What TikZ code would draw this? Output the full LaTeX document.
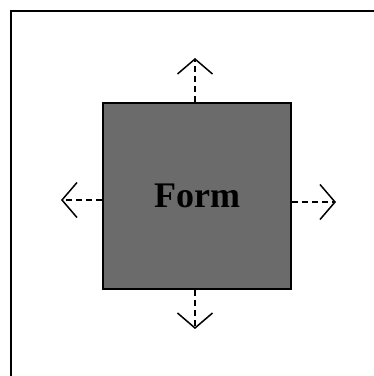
\documentclass[tikz,border=0pt]{standalone}
\usepackage{fontspec}
\setmainfont{Liberation Serif}
\usetikzlibrary{arrows.meta}
\begin{document}
\begin{tikzpicture}[x=1pt,y=-1pt,
  formbox/.style={draw=black,line width=1.6pt,fill=black!58,minimum width=188pt,minimum height=186pt,inner sep=0pt,
    font=\fontsize{36}{36}\selectfont\bfseries,text=black},
  growarrow/.style={line width=1.4pt,dash pattern=on 6pt off 4pt,-{Straight Barb[length=15pt,width=35pt,line width=1.5pt]}}]
\useasboundingbox (0,0) rectangle (374,376);
\fill[white] (0,0) rectangle (374,376);
\draw[line width=1.2pt] (11,376) -- (11,11) -- (374,11);
\node[formbox] (form) at (197,196) {\raisebox{-3pt}{Form}};
\coordinate (up) at (195,58);
\coordinate (down) at (195,329);
\coordinate (left) at (61,200);
\coordinate (right) at (336,202);
\draw[growarrow] (form.north -| up) -- (up);
\draw[growarrow] (form.south -| down) -- (down);
\draw[growarrow] (form.west |- left) -- (left);
\draw[growarrow] (form.east |- right) -- (right);
\end{tikzpicture}
\end{document}
